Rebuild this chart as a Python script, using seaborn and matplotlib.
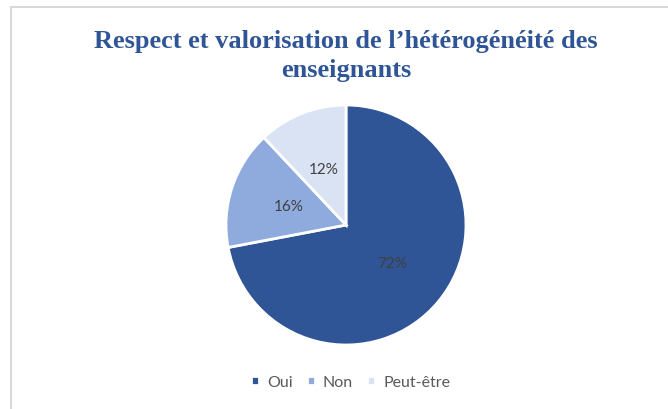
# Pie chart: respect et valorisation de l'hétérogénéité des enseignants
import matplotlib
matplotlib.use("Agg")
import matplotlib.pyplot as plt
import seaborn as sns
from matplotlib.lines import Line2D

# --------------------------------------------
# DATA
# --------------------------------------------
categories = ["Oui", "Non", "Peut-être"]
values = [72, 16, 12]
colors = ["#2F5597", "#8FAADC", "#DAE3F3"]
title = "Respect et valorisation de l\u2019hétérogénéité des\nenseignants"

# --------------------------------------------
# FIGURE
# --------------------------------------------
sns.set_theme(style="white")
plt.rcParams["font.family"] = ["Lato", "DejaVu Sans"]

fig = plt.figure(figsize=(6.68, 4.10), dpi=100)

# light grey frame (top and left edges only visible in the crop)
fig.add_artist(Line2D([11 / 668, 11 / 668], [0, 1 - 8 / 410],
                      color="#D9D9D9", lw=1.5, transform=fig.transFigure))
fig.add_artist(Line2D([11 / 668, 1], [1 - 8 / 410, 1 - 8 / 410],
                      color="#D9D9D9", lw=1.5, transform=fig.transFigure))

ax = fig.add_axes([(346 - 120) / 668, (410 - 346) / 410, 240 / 668, 240 / 410])

wedges, texts, autotexts = ax.pie(
    values,
    colors=colors,
    startangle=90,
    counterclock=False,
    autopct="%1.0f%%",
    pctdistance=0.5,
    wedgeprops=dict(edgecolor="white", linewidth=2),
    textprops=dict(color="#404040", fontsize=11),
)
ax.set_xlim(-1.0, 1.0)
ax.set_ylim(-1.0, 1.0)
ax.set_aspect("equal")
ax.axis("off")

fig.text(0.518, 1 - 56 / 410, title, ha="center", va="center",
         fontsize=19, fontweight="bold", color="#2F5597",
         family=["Liberation Serif", "DejaVu Serif"], linespacing=1.3)

fig.legend(wedges, categories, loc="center", bbox_to_anchor=(0.525, 1 - 383 / 410),
           ncol=3, frameon=False, fontsize=11.5, labelcolor="#595959",
           handlelength=0.5, handleheight=0.5, handletextpad=0.5,
           columnspacing=0.9)

plt.savefig("out.png", dpi=100)
